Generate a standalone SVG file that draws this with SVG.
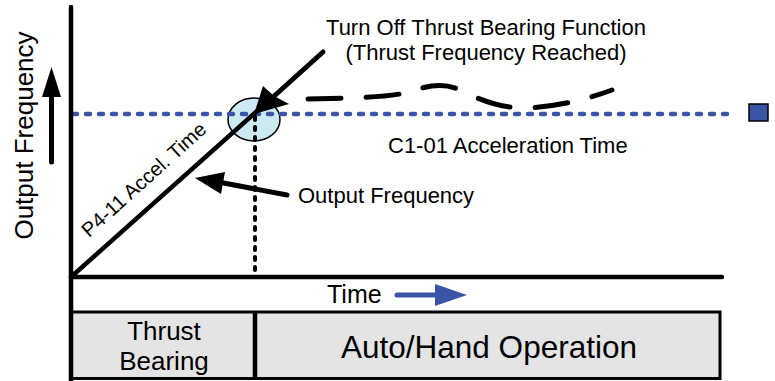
<svg xmlns="http://www.w3.org/2000/svg" width="775" height="381" viewBox="0 0 775 381">
<style>
text{font-family:"Liberation Sans",Arial,sans-serif;fill:#000}
.ax{stroke:#000;stroke-width:4.5;fill:none}
.blk{stroke:#000;fill:none;stroke-linecap:round}
.bluedot{stroke:#3a55a6;stroke-width:4.5;stroke-dasharray:4 9;stroke-linecap:round;fill:none}
.cell{fill:#e4e4e4;stroke:#000;stroke-width:3}
</style>
<rect width="775" height="381" fill="#fff"/>
<g id="table">
<rect class="cell" x="71" y="312" width="649" height="66.5"/>
<line class="ax" x1="255" y1="312" x2="255" y2="379"/>
</g>
<g id="thrust-cell">
<text x="164" y="340" font-size="26" text-anchor="middle">Thrust</text>
<text x="164" y="370" font-size="26" text-anchor="middle">Bearing</text>
</g>
<g id="auto-cell">
<text x="489" y="358" font-size="31.5" text-anchor="middle">Auto/Hand Operation</text>
</g>
<g id="ellipse-node">
<ellipse cx="254" cy="119.5" rx="26" ry="21.5" fill="#cde9f1" stroke="#000" stroke-width="1.5"/>
</g>
<g id="connectors">
<line class="bluedot" x1="73" y1="114" x2="733" y2="114"/>
<line class="blk" x1="255" y1="117" x2="255" y2="277" stroke-width="4" stroke-dasharray="3 7"/>
<line class="blk" x1="71" y1="277" x2="256" y2="112" stroke-width="4.5"/>
<path class="blk" d="M308,99 C350,98 390,98 413,91 C428,85 446,83 460,90 C480,100 500,108 525,108 C555,107 585,100 612,90" stroke-width="5" stroke-dasharray="33 25"/>
<line class="blk" x1="323" y1="52" x2="272" y2="98" stroke-width="5"/>
<polygon points="254,114 263,86 274,96 289,104" fill="#000"/>
<line class="blk" x1="213" y1="181" x2="287" y2="195" stroke-width="5"/>
<polygon points="195,178 225,172 221,194" fill="#000"/>
<line class="blk" x1="51.5" y1="95" x2="51.5" y2="162" stroke-width="5"/>
<polygon points="51.5,67 42,97 61,97" fill="#000"/>
<line x1="397" y1="295" x2="438" y2="295" stroke="#3a55a6" stroke-width="5" stroke-linecap="round"/>
<polygon points="435,284 467,295 435,306" fill="#3a55a6"/>
</g>
<g id="axes">
<line class="ax" x1="71" y1="277" x2="722" y2="277" stroke-linecap="round"/>
<line class="ax" x1="71" y1="7" x2="71" y2="381" stroke-linecap="round"/>
</g>
<g id="legend-square">
<rect x="749" y="104" width="19" height="17" fill="#3a55a6" stroke="#000" stroke-width="1.5"/>
</g>
<g id="labels">
<text x="486" y="35" font-size="22" text-anchor="middle">Turn Off Thrust Bearing Function</text>
<text x="486" y="60" font-size="22" text-anchor="middle">(Thrust Frequency Reached)</text>
<text x="388" y="153" font-size="22">C1-01 Acceleration Time</text>
<text x="298" y="203" font-size="22">Output Frequency</text>
<text transform="translate(33,135.5) rotate(-90)" font-size="26" text-anchor="middle">Output Frequency</text>
<text transform="translate(89,238) rotate(-42)" font-size="20">P4-11 Accel. Time</text>
<text x="327" y="303" font-size="25">Time</text>
</g>
</svg>
